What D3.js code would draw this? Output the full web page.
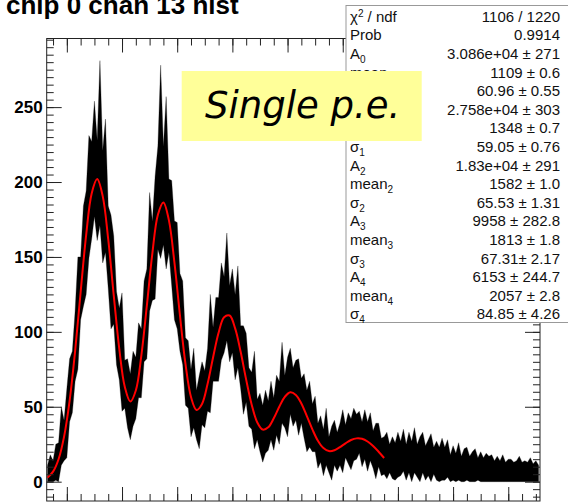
<!DOCTYPE html>
<html>
<head>
<meta charset="utf-8">
<script src="https://cdn.jsdelivr.net/npm/d3@7"></script>
<style>
  body { margin: 0; background: #fff; }
  svg { display: block; }
</style>
</head>
<body>
<script>
// histogram read every 10 adc counts: top and bottom of the noisy black band
const binX = d3.range(930, 2711, 10);
const histHi = [11, 18, 14, 25, 26, 50, 41, 62, 82, 87, 114, 150, 150, 184, 194, 231, 227, 254, 228, 281,
  221, 242, 184, 178, 164, 127, 116, 126, 81, 82, 72, 87, 83, 106, 102, 134, 142, 193, 174, 204,
  224, 278, 224, 257, 202, 201, 174, 173, 139, 134, 96, 94, 75, 89, 61, 71, 80, 74, 89, 125,
  103, 123, 123, 146, 137, 166, 131, 142, 125, 144, 104, 104, 99, 76, 73, 87, 55, 59, 51, 61,
  54, 67, 56, 71, 67, 93, 71, 83, 89, 76, 81, 82, 69, 72, 61, 67, 52, 57, 39, 44,
  35, 49, 30, 37, 41, 33, 39, 48, 38, 46, 42, 49, 45, 47, 40, 48, 40, 46, 34, 39,
  39, 29, 30, 33, 25, 30, 26, 33, 27, 35, 25, 33, 27, 36, 25, 30, 33, 24, 28, 32,
  23, 27, 23, 29, 23, 28, 18, 24, 19, 26, 17, 22, 23, 17, 20, 22, 16, 20, 16, 19,
  17, 18, 14, 17, 14, 18, 13, 15, 15, 13, 14, 17, 13, 14, 13, 16, 12, 14, 11];
const histLo = [0, 0, 0, 1, 0, 11, 14, 16, 40, 46, 67, 75, 108, 117, 125, 149, 162, 177, 161, 171,
  146, 153, 129, 102, 105, 78, 68, 47, 49, 36, 28, 37, 42, 56, 56, 80, 82, 114, 121, 122,
  155, 149, 158, 142, 153, 131, 108, 102, 87, 78, 51, 49, 30, 36, 28, 22, 38, 36, 47, 46,
  67, 67, 67, 81, 86, 94, 80, 86, 68, 76, 62, 45, 53, 37, 35, 22, 28, 20, 13, 19,
  21, 28, 21, 31, 25, 39, 36, 30, 45, 37, 41, 31, 39, 29, 20, 23, 20, 20, 9, 13,
  4, 11, 6, 1, 11, 7, 11, 6, 16, 12, 8, 14, 15, 19, 10, 15, 7, 14, 9, 2,
  10, 4, 5, 2, 6, 2, 1, 3, 4, 7, 1, 6, 0, 6, 3, 0, 6, 1, 4, 0,
  5, 1, 0, 1, 1, 3, 0, 1, 0, 1, 0, 0, 1, 0, 0, 0, 1, 0, 0, 0,
  0, 0, 0, 0, 0, 0, 0, 0, 0, 0, 0, 0, 0, 0, 0, 0, 0, 0, 0];

// red fit curve, sampled every 20 counts over the fit range
const fitX = d3.range(930, 2151, 20);
const fitY = [2.7, 6.7, 15.0, 30.1, 54.0, 87.2, 126.5, 164.6, 192.4, 202.0, 190.6, 161.8, 124.4, 88.8, 63.3, 53.5, 60.9, 84.1, 117.5, 152.4,
  178.2, 186.4, 174.4, 146.2, 111.0, 78.6, 56.5, 47.9, 51.9, 65.2, 82.9, 99.4, 109.8, 110.9, 102.3, 86.7, 68.1, 51.4, 39.7, 34.8,
  36.3, 42.3, 50.0, 56.6, 59.7, 57.9, 52.2, 43.7, 34.9, 27.3, 22.4, 20.4, 21.0, 23.1, 25.6, 27.8, 28.9, 28.6, 26.8, 23.8,
  20.0, 15.8];

const yTicks = [0, 50, 100, 150, 200, 250];

// fit statistics box
const statNames = ["\u03C7", "Prob", "A", "mean", "\u03C3", "A", "mean", "\u03C3", "A", "mean", "\u03C3",
  "A", "mean", "\u03C3", "A", "mean", "\u03C3"];
const statSubs = ["", "", "0", "0", "0", "1", "1", "1", "2", "2", "2", "3", "3", "3", "4", "4", "4"];
const statValues = ["1106 / 1220", "0.9914", "3.086e+04 \u00B1 271", "1109 \u00B1 0.6", "60.96 \u00B1 0.55",
  "2.758e+04 \u00B1 303", "1348 \u00B1 0.7", "59.05 \u00B1 0.76", "1.83e+04 \u00B1 291", "1582 \u00B1 1.0",
  "65.53 \u00B1 1.31", "9958 \u00B1 282.8", "1813 \u00B1 1.8", "67.31\u00B1 2.17", "6153 \u00B1 244.7",
  "2057 \u00B1 2.8", "84.85 \u00B1 4.26"];

const title = "chip 0 chan 13 hist";
const note = "Single p.e.";

window.onload = function () {
    const width = 568, height = 504;
    const frame = {left: 46.7, right: 540, top: 38.5, bottom: 501};

    const svg = d3.select("body")
        .append("svg")
        .attr("width", width)
        .attr("height", height);

    const x = d3.scaleLinear()
        .domain([927, 2715])
        .range([frame.left, frame.right]);

    const y = d3.scaleLinear()
        .domain([-12.9, 295.8])
        .range([frame.bottom, frame.top]);

    svg.append("clipPath")
        .attr("id", "clip")
        .append("rect")
        .attr("x", frame.left)
        .attr("y", frame.top)
        .attr("width", frame.right - frame.left)
        .attr("height", frame.bottom - frame.top);

    //black histogram band
    const band = d3.area()
        .x(function (d, i) { return x(binX[i]); })
        .y0(function (d, i) { return y(histLo[i]); })
        .y1(function (d, i) { return y(histHi[i]); });

    svg.append("path")
        .datum(histHi)
        .attr("clip-path", "url(#clip)")
        .attr("d", band)
        .attr("fill", "#000")
        .attr("stroke", "#111")
        .attr("stroke-width", 0.3);

    //red fit
    const fitLine = d3.line()
        .x(function (d, i) { return x(fitX[i]); })
        .y(function (d) { return y(d); })
        .curve(d3.curveCatmullRom);

    svg.append("path")
        .datum(fitY)
        .attr("d", fitLine)
        .attr("fill", "none")
        .attr("stroke", "#ff0000")
        .attr("stroke-width", 2);

    //axes, ROOT style ticks on all four sides
    const xMajor = d3.range(1000, 2701, 200);
    const xMinor = d3.range(950, 2715, 50);
    const yMinor = d3.range(-10, 296, 5);

    svg.append("g")
        .attr("transform", "translate(0," + frame.bottom + ")")
        .call(d3.axisBottom(x).tickValues(xMinor).tickSize(-7).tickFormat(""));
    svg.append("g")
        .attr("transform", "translate(0," + frame.bottom + ")")
        .call(d3.axisBottom(x).tickValues(xMajor).tickSize(-14).tickFormat(""));
    svg.append("g")
        .attr("transform", "translate(0," + frame.top + ")")
        .call(d3.axisTop(x).tickValues(xMinor).tickSize(-7).tickFormat(""));
    svg.append("g")
        .attr("transform", "translate(0," + frame.top + ")")
        .call(d3.axisTop(x).tickValues(xMajor).tickSize(-14).tickFormat(""));

    svg.append("g")
        .attr("transform", "translate(" + frame.left + ",0)")
        .call(d3.axisLeft(y).tickValues(yMinor).tickSize(-7).tickFormat(""));
    const yAxis = svg.append("g")
        .attr("class", "yaxis")
        .attr("transform", "translate(" + frame.left + ",0)")
        .call(d3.axisLeft(y).tickValues(yTicks).tickSize(-15).tickPadding(4));
    svg.append("g")
        .attr("transform", "translate(" + frame.right + ",0)")
        .call(d3.axisRight(y).tickValues(yMinor).tickSize(-7).tickFormat(""));
    svg.append("g")
        .attr("transform", "translate(" + frame.right + ",0)")
        .call(d3.axisRight(y).tickValues(yTicks).tickSize(-15).tickFormat(""));

    svg.selectAll(".domain").remove();
    svg.selectAll(".tick line").attr("stroke", "#222");
    yAxis.selectAll("text")
        .attr("font-family", "Liberation Sans, Arial, sans-serif")
        .attr("font-weight", "bold")
        .attr("font-size", 17)
        .attr("fill", "#000");

    svg.append("rect")
        .attr("x", frame.left)
        .attr("y", frame.top)
        .attr("width", frame.right - frame.left)
        .attr("height", frame.bottom - frame.top)
        .attr("fill", "none")
        .attr("stroke", "#222");

    //title, cut at the top edge like the original
    svg.append("text")
        .attr("x", 6)
        .attr("y", 14)
        .attr("font-family", "Liberation Sans, Arial, sans-serif")
        .attr("font-weight", "bold")
        .attr("font-size", 26)
        .text(title);

    //stats box
    const box = {x: 346, y: 5.5, w: 225, h: 317};
    svg.append("rect")
        .attr("x", box.x)
        .attr("y", box.y)
        .attr("width", box.w)
        .attr("height", box.h)
        .attr("fill", "#fff")
        .attr("stroke", "#999");

    const rows = svg.append("g")
        .attr("font-family", "Liberation Sans Narrow, Arial Narrow, Liberation Sans, sans-serif")
        .attr("font-size", 15)
        .attr("fill", "#111");

    const rowStep = 18.6;
    statNames.forEach(function (name, i) {
        const by = 21.7 + i * rowStep;
        const t = rows.append("text")
            .attr("x", 350)
            .attr("y", by);
        t.append("tspan").text(name);
        if (i === 0) {
            t.append("tspan").attr("dy", -5).attr("font-size", 10).text("2");
            t.append("tspan").attr("dy", 5).text(" / ndf");
        }
        if (statSubs[i] !== "") {
            t.append("tspan").attr("dy", 4).attr("font-size", 10).text(statSubs[i]);
        }
        rows.append("text")
            .attr("x", 560)
            .attr("y", by)
            .attr("text-anchor", "end")
            .text(statValues[i]);
    });

    //yellow label
    svg.append("rect")
        .attr("x", 181.7)
        .attr("y", 71)
        .attr("width", 240)
        .attr("height", 70)
        .attr("fill", "#ffff99");
    svg.append("text")
        .attr("x", 205)
        .attr("y", 118)
        .attr("font-family", "DejaVu Sans, sans-serif")
        .attr("font-style", "italic")
        .attr("font-size", 37)
        .text(note);
};
</script>
</body>
</html>
